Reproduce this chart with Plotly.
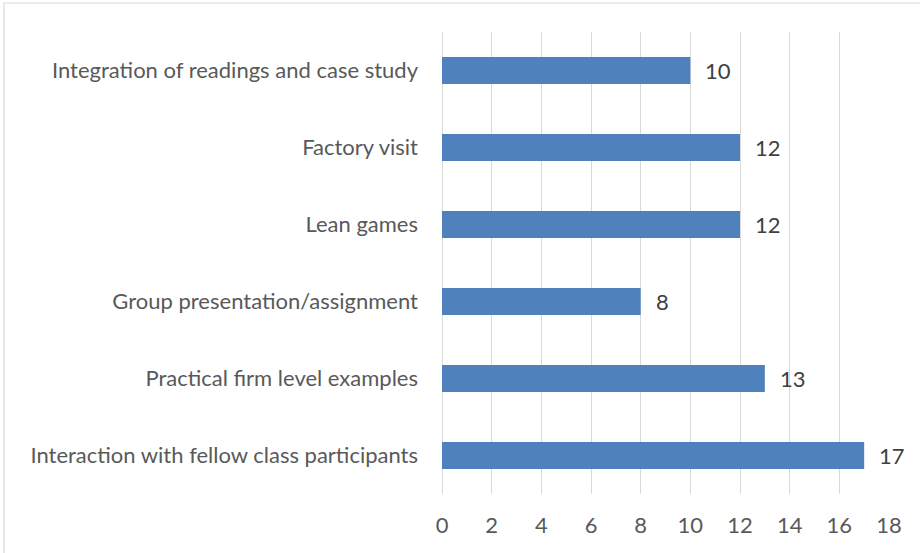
import plotly.graph_objects as go

categories = [
    "Interaction with fellow class participants",
    "Practical firm level examples",
    "Group presentation/assignment",
    "Lean games",
    "Factory visit",
    "Integration of readings and case study",
]
values = [17, 13, 8, 12, 12, 10]
x_ticks = [0, 2, 4, 6, 8, 10, 12, 14, 16, 18]

FONT = "Lato, Open Sans, sans-serif"
TXT = "#595959"

fig = go.Figure(go.Bar(
    x=values, y=categories, orientation="h",
    marker=dict(color="#4F81BD", line=dict(width=0)),
    hoverinfo="skip",
))

for v, c in zip(values, categories):
    fig.add_annotation(x=v, y=c, text=str(v), showarrow=False,
                       xanchor="left", xshift=13,
                       font=dict(family=FONT, size=22, color="#404040"))

fig.add_shape(type="rect", xref="paper", yref="paper",
              x0=-0.98, x1=1.2, y0=-0.3, y1=1.0628,
              line=dict(color="#D9D9D9", width=1.2), layer="below")

fig.update_layout(
    width=920, height=553,
    margin=dict(l=442, r=31, t=32, b=59),
    paper_bgcolor="white", plot_bgcolor="white",
    bargap=0.65,
    showlegend=False,
    font=dict(family=FONT, size=22, color=TXT),
    xaxis=dict(range=[0, 18], tickvals=x_ticks, showgrid=True,
               gridcolor="#D9D9D9", gridwidth=1, zeroline=True,
               zerolinecolor="#D9D9D9", zerolinewidth=1,
               showline=False, ticks="", ticklabelstandoff=16,
               automargin=False,
               tickfont=dict(family=FONT, size=22, color=TXT)),
    yaxis=dict(showgrid=False, ticks="", showline=False,
               ticklabelstandoff=23, automargin=False,
               tickfont=dict(family=FONT, size=22, color=TXT)),
)

fig.write_html("out.html",
               config={"displayModeBar": False},
               post_script="document.body.style.margin='0';document.body.style.overflow='hidden';")
